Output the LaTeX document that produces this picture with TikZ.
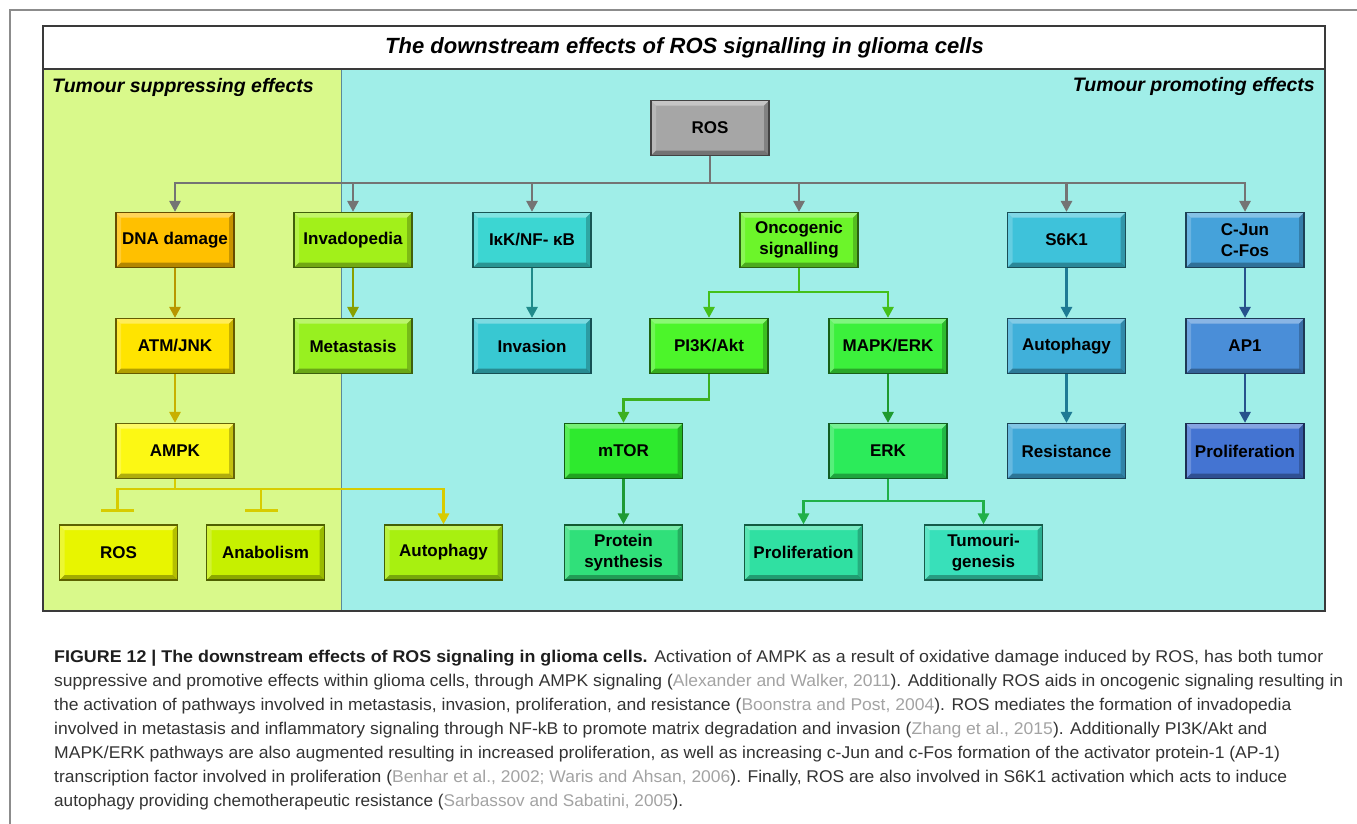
\documentclass[tikz,border=0pt]{standalone}
\usepackage{fontspec}
\setmainfont{Liberation Sans}
\setsansfont{Liberation Sans}
\usepackage{graphicx}
\usetikzlibrary{arrows.meta}
\definecolor{frameGray}{HTML}{8C8C8C}
\definecolor{boxLine}{HTML}{3A3A3A}
\definecolor{leftBg}{HTML}{D9F98B}
\definecolor{rightBg}{HTML}{A0EEE8}
\definecolor{panelLine}{HTML}{5A8A9A}
\definecolor{capText}{HTML}{333333}
\definecolor{capBold}{HTML}{1E1E1E}
\definecolor{citeGray}{HTML}{A3A3A3}
% node fills
\definecolor{cRos}{HTML}{A6A6A6}
\definecolor{cDna}{HTML}{FFC000}
\definecolor{cInv}{HTML}{A2F01A}
\definecolor{cIkk}{HTML}{3CD6D2}
\definecolor{cOnc}{HTML}{6CF52A}
\definecolor{cS6k}{HTML}{3EC2DA}
\definecolor{cJun}{HTML}{45A2DA}
\definecolor{cAtm}{HTML}{FFE400}
\definecolor{cMet}{HTML}{98F020}
\definecolor{cInvasion}{HTML}{38C8D2}
\definecolor{cPi}{HTML}{4CF52A}
\definecolor{cMapk}{HTML}{3CF03C}
\definecolor{cAutR}{HTML}{40B0DA}
\definecolor{cAp}{HTML}{4A8ED8}
\definecolor{cAmpk}{HTML}{FCF814}
\definecolor{cMtor}{HTML}{2EEA2E}
\definecolor{cErk}{HTML}{2CEB5A}
\definecolor{cRes}{HTML}{40A8D8}
\definecolor{cProR}{HTML}{4474D2}
\definecolor{cRosB}{HTML}{E8F500}
\definecolor{cAna}{HTML}{C6F000}
\definecolor{cAutL}{HTML}{A8F010}
\definecolor{cProt}{HTML}{30E07A}
\definecolor{cProM}{HTML}{30E0A2}
\definecolor{cTum}{HTML}{38E0BA}
% connector colours
\definecolor{lRos}{HTML}{747474}
\definecolor{lDna}{HTML}{B89600}
\definecolor{lAtm}{HTML}{C8B000}
\definecolor{lAmpk}{HTML}{D8CC00}
\definecolor{lInv}{HTML}{8AA000}
\definecolor{lIkk}{HTML}{1F8A8A}
\definecolor{lOnc}{HTML}{44C01A}
\definecolor{lPi}{HTML}{3CB020}
\definecolor{lMapk}{HTML}{1E9A2E}
\definecolor{lMtor}{HTML}{1E9A34}
\definecolor{lErk}{HTML}{20B048}
\definecolor{lS6k}{HTML}{1E7A94}
\definecolor{lJun}{HTML}{27528C}
\newcommand{\cit}[1]{\textcolor{citeGray}{#1}}
\tikzset{
  box/.style={rectangle, fill=#1, draw=#1!40!black, line width=1.2pt,
    minimum width=118pt, minimum height=55pt, inner sep=0pt, align=center,
    text=black, font=\bfseries\fontsize{17}{21}\selectfont,
    path picture={
      \fill[white,opacity=.35] (path picture bounding box.north west) -- (path picture bounding box.north east) -- ([shift={(-5pt,-5pt)}]path picture bounding box.north east) -- ([shift={(5pt,-5pt)}]path picture bounding box.north west) -- cycle;
      \fill[white,opacity=.2] (path picture bounding box.north west) -- (path picture bounding box.south west) -- ([shift={(5pt,5pt)}]path picture bounding box.south west) -- ([shift={(5pt,-5pt)}]path picture bounding box.north west) -- cycle;
      \fill[black,opacity=.3] (path picture bounding box.south west) -- (path picture bounding box.south east) -- ([shift={(-5pt,5pt)}]path picture bounding box.south east) -- ([shift={(5pt,5pt)}]path picture bounding box.south west) -- cycle;
      \fill[black,opacity=.22] (path picture bounding box.north east) -- (path picture bounding box.south east) -- ([shift={(-5pt,5pt)}]path picture bounding box.south east) -- ([shift={(-5pt,-5pt)}]path picture bounding box.north east) -- cycle;
    }},
  conn/.style={draw=#1, line width=2.8pt, -{Triangle[length=11pt,width=11pt]}},
  inhib/.style={draw=#1, line width=2.8pt, -{Bar[width=33pt,line width=3.2pt]}},
  capline/.style={anchor=west, inner sep=0pt, text=capText, font=\fontsize{17}{20}\selectfont},
  paneltitle/.style={font=\bfseries\itshape\fontsize{19.5}{23}\selectfont, inner sep=0pt}
}
\begin{document}
\begin{tikzpicture}[x=1pt,y=-1pt]
\useasboundingbox (0,0) rectangle (1357,823);
\clip (0,0) rectangle (1357,823);
\fill[white] (0,0) rectangle (1357,823);
\draw[line width=2pt, frameGray] (10,10) rectangle (1420,900);
% panels
\fill[leftBg] (43,69) rectangle (341,611);
\fill[rightBg] (341,69) rectangle (1325,611);
\fill[white] (43,26) rectangle (1325,69);
\draw[panelLine, line width=1pt] (341,69) -- (341,611);
\draw[boxLine, line width=1.6pt] (43,69) -- (1325,69);
\draw[boxLine, line width=1.6pt] (43,26) rectangle (1325,611);
\node[font=\bfseries\itshape\fontsize{22}{26}\selectfont, inner sep=0pt] (title) at (684.5,48) {The downstream effects of ROS signalling in glioma cells};
\node[paneltitle, anchor=west] (supp) at (52,87) {Tumour suppressing effects};
\node[paneltitle, anchor=east] (prom) at (1315,86) {Tumour promoting effects};
% nodes
\node[box=cRos] (ros) at (710,128) {ROS};
\node[box=cDna] (dna) at (175,240) {DNA damage};
\node[box=cInv] (inv) at (353,240) {Invadopedia};
\node[box=cIkk] (ikk) at (532,240) {IκK/NF- κB};
\node[box=cOnc] (onc) at (799,240) {Oncogenic\\signalling};
\node[box=cS6k] (s6k) at (1066.5,240) {S6K1};
\node[box=cJun] (cjun) at (1245,240) {C-Jun\\C-Fos};
\node[box=cAtm] (atm) at (175,346) {ATM/JNK};
\node[box=cMet] (met) at (353,346) {Metastasis};
\node[box=cInvasion] (invasion) at (532,346) {Invasion};
\node[box=cPi] (pi3k) at (709,346) {PI3K/Akt};
\node[box=cMapk] (mapk) at (888,346) {MAPK/ERK};
\node[box=cAutR] (autr) at (1066.5,346) {Autophagy};
\node[box=cAp] (ap1) at (1245,346) {AP1};
\node[box=cAmpk] (ampk) at (175,451) {AMPK};
\node[box=cMtor] (mtor) at (623.5,451) {mTOR};
\node[box=cErk] (erk) at (888,451) {ERK};
\node[box=cRes] (res) at (1066.5,451) {Resistance};
\node[box=cProR] (pror) at (1245,451) {Proliferation};
\node[box=cRosB] (rosb) at (118.5,552.5) {ROS};
\node[box=cAna] (ana) at (265.5,552.5) {Anabolism};
\node[box=cAutL] (autl) at (443.5,552.5) {Autophagy};
\node[box=cProt] (prot) at (623.5,552.5) {Protein\\synthesis};
\node[box=cProM] (prom2) at (803.5,552.5) {Proliferation};
\node[box=cTum] (tum) at (983.5,552.5) {Tumouri-\\genesis};
% connectors from ROS
\coordinate (busR) at (710,183);
\foreach \n in {dna,inv,ikk,onc,s6k,cjun}
  \draw[conn=lRos] (ros.south) -- (busR) -| (\n.north);
% vertical chains
\draw[conn=lDna] (dna.south) -- (atm.north);
\draw[conn=lAtm] (atm.south) -- (ampk.north);
\draw[conn=lInv] (inv.south) -- (met.north);
\draw[conn=lIkk] (ikk.south) -- (invasion.north);
\draw[conn=lS6k] (s6k.south) -- (autr.north);
\draw[conn=lS6k] (autr.south) -- (res.north);
\draw[conn=lJun] (cjun.south) -- (ap1.north);
\draw[conn=lJun] (ap1.south) -- (pror.north);
\draw[conn=lMapk] (mapk.south) -- (erk.north);
\draw[conn=lMtor] (mtor.south) -- (prot.north);
% oncogenic branching
\coordinate (busO) at (799,292);
\draw[conn=lOnc] (onc.south) -- (busO) -| (pi3k.north);
\draw[conn=lOnc] (onc.south) -- (busO) -| (mapk.north);
\draw[conn=lPi] (pi3k.south) -- ++(0,25) -| (mtor.north);
\coordinate (busE) at (888,501);
\draw[conn=lErk] (erk.south) -- (busE) -| (prom2.north);
\draw[conn=lErk] (erk.south) -- (busE) -| (tum.north);
% AMPK branching
\coordinate (busA) at (175,489);
\draw[inhib=lAmpk] (ampk.south) -- (busA) -| ([xshift=-1pt,yshift=12pt]rosb.north);
\draw[inhib=lAmpk] (ampk.south) -- (busA) -| ([xshift=-4.5pt,yshift=12pt]ana.north);
\draw[conn=lAmpk] (ampk.south) -- (busA) -| (autl.north);
% caption
\node[capline] (cap1) at (54,658) {\resizebox{1269pt}{\height}{\textcolor{capBold}{\bfseries FIGURE 12 | The downstream effects of ROS signaling in glioma cells.} Activation of AMPK as a result of oxidative damage induced by ROS, has both tumor}};
\node[capline] (cap2) at (54,682) {\resizebox{1289pt}{\height}{suppressive and promotive effects within glioma cells, through AMPK signaling (\cit{Alexander and Walker, 2011}). Additionally ROS aids in oncogenic signaling resulting in}};
\node[capline] (cap3) at (54,706) {\resizebox{1237pt}{\height}{the activation of pathways involved in metastasis, invasion, proliferation, and resistance (\cit{Boonstra and Post, 2004}). ROS mediates the formation of invadopedia}};
\node[capline] (cap4) at (54,730) {\resizebox{1213pt}{\height}{involved in metastasis and inflammatory signaling through NF-kB to promote matrix degradation and invasion (\cit{Zhang et al., 2015}). Additionally PI3K/Akt and}};
\node[capline] (cap5) at (54,754) {\resizebox{1226pt}{\height}{MAPK/ERK pathways are also augmented resulting in increased proliferation, as well as increasing c-Jun and c-Fos formation of the activator protein-1 (AP-1)}};
\node[capline] (cap6) at (54,778) {\resizebox{1233pt}{\height}{transcription factor involved in proliferation (\cit{Benhar et al., 2002; Waris and Ahsan, 2006}). Finally, ROS are also involved in S6K1 activation which acts to induce}};
\node[capline] (cap7) at (54,802) {\resizebox{629pt}{\height}{autophagy providing chemotherapeutic resistance (\cit{Sarbassov and Sabatini, 2005}).}};
\end{tikzpicture}
\end{document}
